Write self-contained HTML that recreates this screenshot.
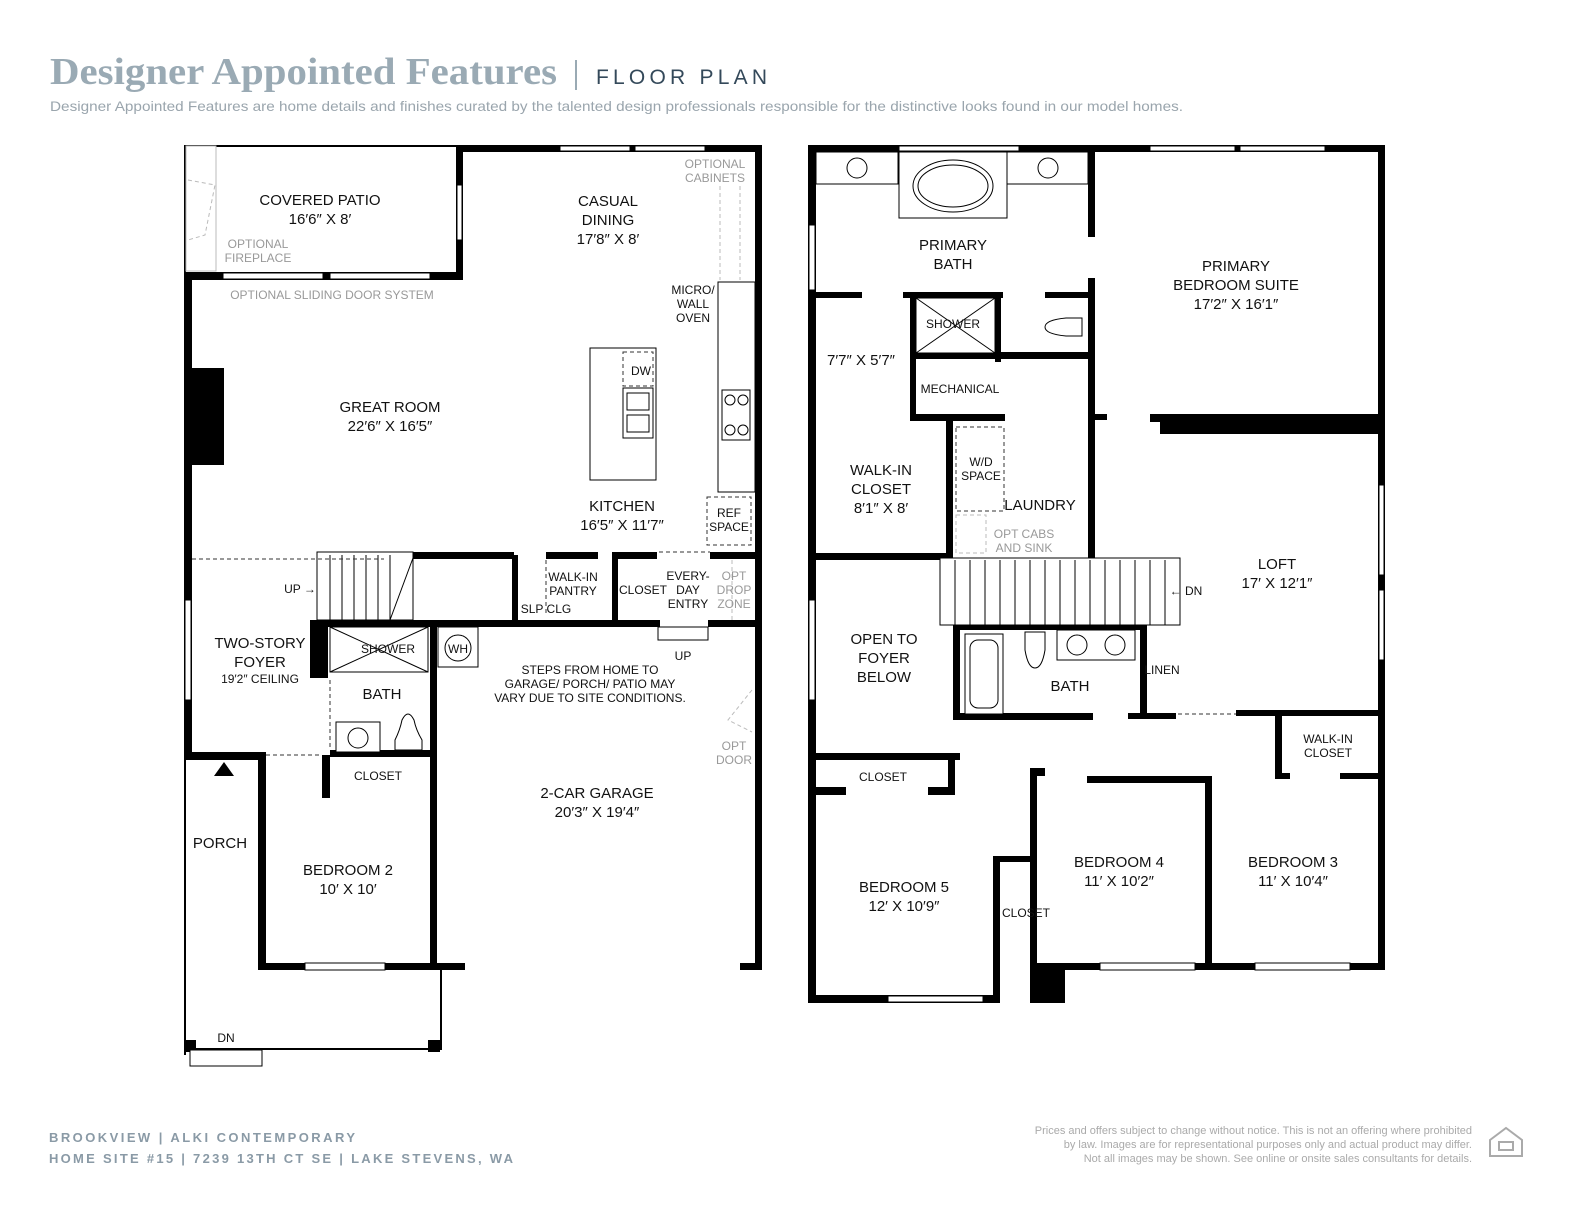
<!DOCTYPE html>
<html><head><meta charset="utf-8"><style>
body{margin:0;background:#fff;}
svg{display:block}
text{font-family:"Liberation Sans",sans-serif;fill:#111;}
.t{font-size:15px;text-anchor:middle}
.s{font-size:12px;text-anchor:middle}
.g{font-size:12px;text-anchor:middle;fill:#999}
</style></head><body>
<svg width="1576" height="1217" viewBox="0 0 1576 1217" xmlns="http://www.w3.org/2000/svg">
<text x="50" y="84" textLength="507" lengthAdjust="spacingAndGlyphs" style="font-family:'Liberation Serif',serif;font-size:38px;font-weight:bold;fill:#9aaab4">Designer Appointed Features</text>
<rect x="575" y="60" width="2" height="30" fill="#9aaab4"/>
<text x="596" y="84" textLength="174" style="font-size:21px;letter-spacing:3px;fill:#34495a">FLOOR PLAN</text>
<text x="50" y="111" textLength="1133" lengthAdjust="spacingAndGlyphs" style="font-size:14px;fill:#9aa5ad">Designer Appointed Features are home details and finishes curated by the talented design professionals responsible for the distinctive looks found in our model homes.</text>

<g fill="#000">
<rect x="184" y="145" width="2" height="910"/>
<rect x="184" y="145" width="272" height="2"/>
<rect x="456" y="145" width="7" height="135"/>
<rect x="456" y="145" width="306" height="7"/>
<rect x="755" y="145" width="7" height="825"/>
<rect x="184" y="272" width="279" height="8"/>
<rect x="184" y="280" width="8" height="480"/>
<rect x="192" y="368" width="32" height="97"/>
<rect x="384" y="552" width="130" height="7"/>
<rect x="546" y="552" width="52" height="7"/>
<rect x="612" y="552" width="45" height="7"/>
<rect x="710" y="552" width="50" height="7"/>
<rect x="512" y="555" width="6" height="68"/>
<rect x="612" y="555" width="6" height="68"/>
<rect x="310" y="620" width="350" height="7"/>
<rect x="708" y="620" width="54" height="7"/>
<rect x="310" y="622" width="18" height="56"/>
<rect x="430" y="622" width="7" height="348"/>
<rect x="330" y="750" width="107" height="7"/>
<rect x="184" y="752" width="78" height="8"/>
<rect x="258" y="752" width="8" height="218"/>
<rect x="322" y="755" width="8" height="43"/>
<rect x="258" y="963" width="207" height="7"/>
<rect x="740" y="963" width="22" height="7"/>
<rect x="184" y="1048" width="258" height="2"/>
<rect x="440" y="970" width="2" height="80"/>
<rect x="184" y="1040" width="12" height="12"/>
<rect x="428" y="1040" width="12" height="12"/>
<polygon points="214,776 224,762 234,776"/>

<rect x="808" y="145" width="8" height="858"/>
<rect x="808" y="145" width="577" height="7"/>
<rect x="1378" y="145" width="7" height="825"/>
<rect x="1030" y="963" width="355" height="7"/>
<rect x="808" y="995" width="190" height="8"/>
<rect x="993" y="858" width="7" height="145"/>
<rect x="993" y="856" width="37" height="6"/>
<rect x="1030" y="963" width="35" height="40"/>
<rect x="1088" y="152" width="7" height="85"/>
<rect x="1088" y="278" width="7" height="280"/>
<rect x="1095" y="414" width="12" height="6"/>
<rect x="1150" y="414" width="235" height="8"/>
<rect x="1160" y="420" width="225" height="14"/>
<rect x="816" y="292" width="46" height="6"/>
<rect x="903" y="292" width="100" height="6"/>
<rect x="1045" y="292" width="50" height="6"/>
<rect x="910" y="292" width="6" height="128"/>
<rect x="995" y="292" width="6" height="70"/>
<rect x="910" y="352" width="185" height="7"/>
<rect x="910" y="414" width="95" height="7"/>
<rect x="946" y="414" width="7" height="146"/>
<rect x="816" y="553" width="135" height="7"/>
<rect x="1088" y="552" width="7" height="10"/>
<rect x="953" y="622" width="194" height="8"/>
<rect x="953" y="622" width="7" height="96"/>
<rect x="953" y="713" width="140" height="7"/>
<rect x="1140" y="622" width="7" height="96"/>
<rect x="1128" y="713" width="48" height="6"/>
<rect x="1236" y="710" width="149" height="6"/>
<rect x="816" y="753" width="144" height="7"/>
<rect x="816" y="787" width="30" height="8"/>
<rect x="928" y="787" width="27" height="8"/>
<rect x="948" y="755" width="7" height="40"/>
<rect x="1030" y="768" width="7" height="195"/>
<rect x="1030" y="768" width="15" height="8"/>
<rect x="1087" y="776" width="125" height="7"/>
<rect x="1205" y="776" width="7" height="190"/>
<rect x="1275" y="715" width="7" height="63"/>
<rect x="1275" y="773" width="15" height="6"/>
<rect x="1340" y="773" width="45" height="6"/>
</g>

<g fill="#fff" stroke="#000" stroke-width="1">
<rect x="223" y="273" width="100" height="6"/><rect x="330" y="273" width="100" height="6"/>
<rect x="560" y="146" width="70" height="5"/><rect x="635" y="146" width="70" height="5"/>
<rect x="185" y="600" width="6" height="100"/>
<rect x="305" y="963" width="80" height="7"/>
<rect x="186" y="146" width="30" height="125" stroke="#bbb"/>
<rect x="457" y="185" width="5" height="55"/>
<rect x="899" y="146" width="120" height="5"/><rect x="1150" y="146" width="85" height="5"/><rect x="1240" y="146" width="85" height="5"/>
<rect x="809" y="225" width="6" height="65"/>
<rect x="809" y="600" width="6" height="100"/>
<rect x="1379" y="485" width="5" height="90"/><rect x="1379" y="590" width="5" height="70"/>
<rect x="888" y="996" width="95" height="6"/>
<rect x="1100" y="963" width="95" height="7"/><rect x="1255" y="963" width="95" height="7"/>
<rect x="590" y="348" width="66" height="132"/>
<rect x="718" y="282" width="37" height="210"/>
<rect x="722" y="390" width="28" height="50"/>
<circle cx="730" cy="400" r="5"/><circle cx="743" cy="400" r="5"/><circle cx="730" cy="430" r="5"/><circle cx="743" cy="430" r="5"/>
<rect x="623" y="388" width="30" height="50"/><rect x="627" y="393" width="22" height="17"/><rect x="627" y="415" width="22" height="17"/>
<rect x="438" y="627" width="40" height="40"/>
<circle cx="458" cy="648" r="13"/>
<rect x="330" y="627" width="98" height="45"/>
<line x1="330" y1="627" x2="428" y2="672"/><line x1="428" y1="627" x2="330" y2="672"/>
<rect x="336" y="722" width="44" height="30"/><circle cx="358" cy="738" r="10"/>
<path d="M395 750 L395 740 Q400 730 402 720 Q408 708 414 720 Q416 730 422 740 L422 750 Z"/>
<rect x="658" y="627" width="50" height="13"/>
<rect x="190" y="1050" width="72" height="16"/>
<rect x="317" y="552" width="96" height="68"/>
<rect x="816" y="152" width="82" height="32"/><rect x="1007" y="152" width="81" height="32"/>
<rect x="899" y="152" width="108" height="66"/>
<ellipse cx="953" cy="186" rx="40" ry="26"/><ellipse cx="953" cy="186" rx="35" ry="21"/>
<circle cx="857" cy="168" r="10"/><circle cx="1048" cy="168" r="10"/>
<rect x="916" y="298" width="79" height="55"/>
<line x1="916" y1="298" x2="995" y2="353"/><line x1="995" y1="298" x2="916" y2="353"/>
<path d="M1082 318 L1066 318 Q1045 320 1045 327 Q1045 334 1066 336 L1082 336 Z"/>
<rect x="940" y="558" width="240" height="67"/>
<rect x="965" y="634" width="38" height="80"/><rect x="970" y="640" width="28" height="68" rx="8"/>
<rect x="1057" y="630" width="78" height="30"/><circle cx="1077" cy="645" r="10"/><circle cx="1115" cy="645" r="10"/>
<path d="M1025 632 L1045 632 L1045 650 Q1042 668 1035 668 Q1028 668 1025 650 Z"/>
</g>
<g stroke="#000" stroke-width="1">
<line x1="330" y1="555" x2="330" y2="620"/><line x1="342" y1="555" x2="342" y2="620"/><line x1="354" y1="555" x2="354" y2="620"/><line x1="366" y1="555" x2="366" y2="620"/><line x1="378" y1="555" x2="378" y2="620"/><line x1="390" y1="555" x2="390" y2="620"/>
<line x1="413" y1="558" x2="390" y2="620"/>
<line x1="955" y1="560" x2="955" y2="625"/><line x1="970" y1="560" x2="970" y2="625"/><line x1="985" y1="560" x2="985" y2="625"/><line x1="1000" y1="560" x2="1000" y2="625"/><line x1="1015" y1="560" x2="1015" y2="625"/><line x1="1030" y1="560" x2="1030" y2="625"/><line x1="1045" y1="560" x2="1045" y2="625"/><line x1="1060" y1="560" x2="1060" y2="625"/><line x1="1075" y1="560" x2="1075" y2="625"/><line x1="1090" y1="560" x2="1090" y2="625"/><line x1="1105" y1="560" x2="1105" y2="625"/><line x1="1120" y1="560" x2="1120" y2="625"/><line x1="1135" y1="560" x2="1135" y2="625"/><line x1="1150" y1="560" x2="1150" y2="625"/><line x1="1165" y1="560" x2="1165" y2="625"/>
</g>
<g fill="none" stroke="#333" stroke-width="1" stroke-dasharray="4,3">
<line x1="192" y1="559" x2="384" y2="559"/>
<line x1="266" y1="755" x2="322" y2="755"/>
<line x1="330" y1="680" x2="330" y2="750"/>
<rect x="623" y="352" width="30" height="34"/>
<rect x="707" y="497" width="44" height="48"/>
<line x1="659" y1="552" x2="710" y2="552"/>
<line x1="546" y1="560" x2="546" y2="615"/>
<rect x="956" y="427" width="48" height="84"/>
<line x1="1178" y1="714" x2="1236" y2="714"/>
</g>
<g fill="none" stroke="#bbb" stroke-width="1" stroke-dasharray="4,3">
<line x1="720" y1="186" x2="720" y2="280"/><line x1="740" y1="186" x2="740" y2="280"/>
<path d="M188 180 L215 185 L205 235 L188 240"/>
<line x1="732" y1="560" x2="732" y2="620"/>
<path d="M752 690 L728 720 L752 732"/>
<rect x="956" y="515" width="30" height="38"/>
</g>

<g>
<text class="t" x="320" y="205">COVERED PATIO</text><text class="t" x="320" y="224">16′6″ X 8′</text>
<text class="g" x="258" y="248">OPTIONAL</text><text class="g" x="258" y="262">FIREPLACE</text>
<text class="g" x="332" y="299">OPTIONAL SLIDING DOOR SYSTEM</text>
<text class="t" x="608" y="206">CASUAL</text><text class="t" x="608" y="225">DINING</text><text class="t" x="608" y="244">17′8″ X 8′</text>
<text class="g" x="715" y="168">OPTIONAL</text><text class="g" x="715" y="182">CABINETS</text>
<text class="s" x="693" y="294">MICRO/</text><text class="s" x="693" y="308">WALL</text><text class="s" x="693" y="322">OVEN</text>
<text class="s" x="641" y="375">DW</text>
<text class="t" x="390" y="412">GREAT ROOM</text><text class="t" x="390" y="431">22′6″ X 16′5″</text>
<text class="t" x="622" y="511">KITCHEN</text><text class="t" x="622" y="530">16′5″ X 11′7″</text>
<text class="s" x="729" y="517">REF</text><text class="s" x="729" y="531">SPACE</text>
<text class="s" x="300" y="593">UP →</text>
<text class="s" x="573" y="581">WALK-IN</text><text class="s" x="573" y="595">PANTRY</text><text class="s" x="546" y="613">SLP CLG</text>
<text class="s" x="643" y="594">CLOSET</text>
<text class="s" x="688" y="580">EVERY-</text><text class="s" x="688" y="594">DAY</text><text class="s" x="688" y="608">ENTRY</text>
<text class="g" x="734" y="580">OPT</text><text class="g" x="734" y="594">DROP</text><text class="g" x="734" y="608">ZONE</text>
<text class="t" x="260" y="648">TWO-STORY</text><text class="t" x="260" y="667">FOYER</text><text class="s" x="260" y="683">19′2″ CEILING</text>
<text class="s" x="388" y="653">SHOWER</text><text class="s" x="458" y="653">WH</text>
<text class="t" x="382" y="699">BATH</text>
<text class="s" x="683" y="660">UP</text>
<text class="s" x="590" y="674">STEPS FROM HOME TO</text><text class="s" x="590" y="688">GARAGE/ PORCH/ PATIO MAY</text><text class="s" x="590" y="702">VARY DUE TO SITE CONDITIONS.</text>
<text class="g" x="734" y="750">OPT</text><text class="g" x="734" y="764">DOOR</text>
<text class="s" x="378" y="780">CLOSET</text>
<text class="t" x="597" y="798">2-CAR GARAGE</text><text class="t" x="597" y="817">20′3″ X 19′4″</text>
<text class="t" x="220" y="848">PORCH</text>
<text class="t" x="348" y="875">BEDROOM 2</text><text class="t" x="348" y="894">10′ X 10′</text>
<text class="s" x="226" y="1042">DN</text>

<text class="t" x="953" y="250">PRIMARY</text><text class="t" x="953" y="269">BATH</text>
<text class="t" x="1236" y="271">PRIMARY</text><text class="t" x="1236" y="290">BEDROOM SUITE</text><text class="t" x="1236" y="309">17′2″ X 16′1″</text>
<text class="s" x="953" y="328">SHOWER</text>
<text class="t" x="861" y="365">7′7″ X 5′7″</text>
<text class="s" x="960" y="393">MECHANICAL</text>
<text class="s" x="981" y="466">W/D</text><text class="s" x="981" y="480">SPACE</text>
<text class="t" x="881" y="475">WALK-IN</text><text class="t" x="881" y="494">CLOSET</text><text class="t" x="881" y="513">8′1″ X 8′</text>
<text class="t" x="1040" y="510">LAUNDRY</text>
<text class="g" x="1024" y="538">OPT CABS</text><text class="g" x="1024" y="552">AND SINK</text>
<text class="t" x="1277" y="569">LOFT</text><text class="t" x="1277" y="588">17′ X 12′1″</text>
<text class="s" x="1186" y="595">← DN</text>
<text class="t" x="884" y="644">OPEN TO</text><text class="t" x="884" y="663">FOYER</text><text class="t" x="884" y="682">BELOW</text>
<text class="t" x="1070" y="691">BATH</text>
<text class="s" x="1162" y="674">LINEN</text>
<text class="s" x="1328" y="743">WALK-IN</text><text class="s" x="1328" y="757">CLOSET</text>
<text class="s" x="883" y="781">CLOSET</text>
<text class="t" x="1119" y="867">BEDROOM 4</text><text class="t" x="1119" y="886">11′ X 10′2″</text>
<text class="t" x="1293" y="867">BEDROOM 3</text><text class="t" x="1293" y="886">11′ X 10′4″</text>
<text class="t" x="904" y="892">BEDROOM 5</text><text class="t" x="904" y="911">12′ X 10′9″</text>
<text class="s" x="1026" y="917">CLOSET</text>
</g>

<text x="49" y="1142" textLength="308" style="font-size:13px;letter-spacing:2px;fill:#8a9aa6;font-weight:bold">BROOKVIEW  |  ALKI CONTEMPORARY</text>
<text x="49" y="1163" textLength="466" style="font-size:13px;letter-spacing:2px;fill:#8a9aa6;font-weight:bold">HOME SITE #15  |  7239 13TH CT SE  |  LAKE STEVENS, WA</text>
<text x="1472" y="1134" style="font-size:11px;fill:#aaa;text-anchor:end">Prices and offers subject to change without notice. This is not an offering where prohibited</text>
<text x="1472" y="1148" style="font-size:11px;fill:#aaa;text-anchor:end">by law. Images are for representational purposes only and actual product may differ.</text>
<text x="1472" y="1162" style="font-size:11px;fill:#aaa;text-anchor:end">Not all images may be shown. See online or onsite sales consultants for details.</text>
<g fill="none" stroke="#aaa" stroke-width="2"><path d="M1490 1140 L1506 1128 L1522 1140 L1522 1156 L1490 1156 Z"/><rect x="1499" y="1142" width="14" height="8"/></g>
</svg>
</body></html>
